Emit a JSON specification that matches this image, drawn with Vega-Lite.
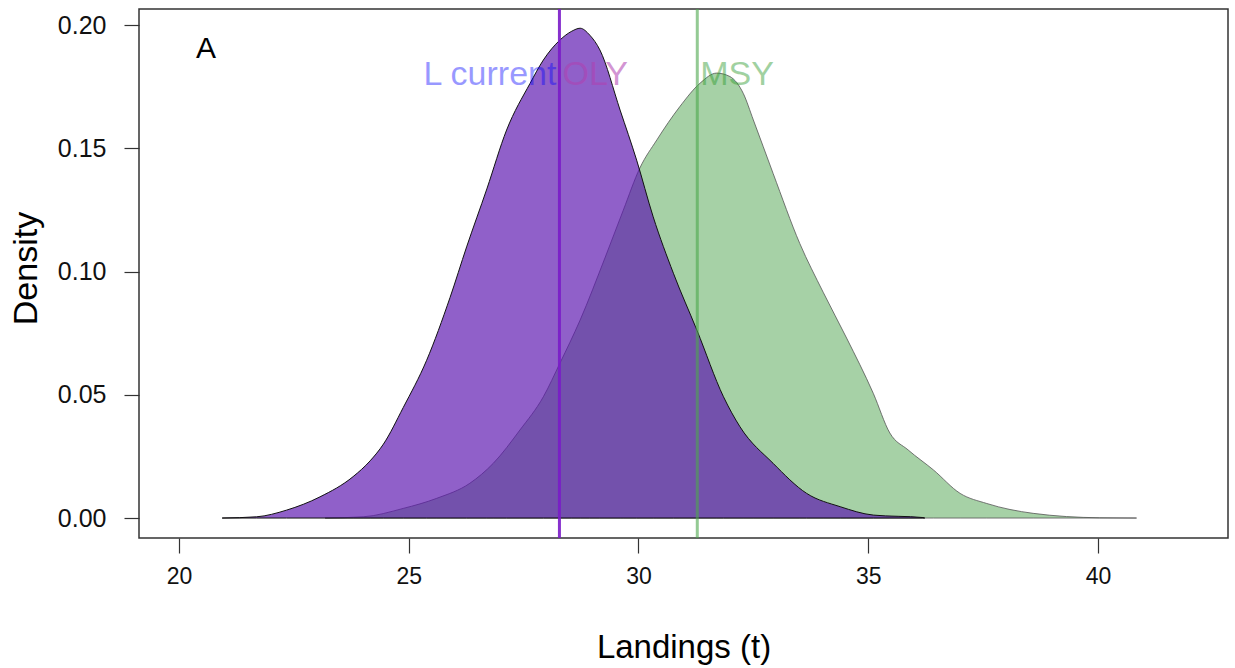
{
  "$schema": "https://vega.github.io/schema/vega-lite/v6.json",
  "width": 1089,
  "height": 529,
  "autosize": "none",
  "padding": {"left": 139, "top": 9, "right": 7, "bottom": 130},
  "background": "white",
  "config": {
    "view": {"stroke": "#333333", "strokeWidth": 1.5},
    "font": "Liberation Sans",
    "axis": {"grid": false, "domain": false, "tickColor": "#333333", "tickSize": 15, "tickWidth": 1.2, "labelFont": "Liberation Sans", "labelFontSize": 23, "labelColor": "#111111", "titleFont": "Liberation Sans", "titleFontSize": 33, "titleFontWeight": "normal", "titleColor": "#000000"}
  },
  "datasets": {
    "oly": [
      {"landings": 20.94, "density": 0.0},
      {"landings": 21.69, "density": 0.0005},
      {"landings": 22.34, "density": 0.0032},
      {"landings": 23.07, "density": 0.0086},
      {"landings": 23.79, "density": 0.0168},
      {"landings": 24.16, "density": 0.0232},
      {"landings": 24.45, "density": 0.0300},
      {"landings": 24.88, "density": 0.0448},
      {"landings": 25.39, "density": 0.0640},
      {"landings": 25.90, "density": 0.0895},
      {"landings": 26.26, "density": 0.1100},
      {"landings": 26.70, "density": 0.1335},
      {"landings": 27.13, "density": 0.1574},
      {"landings": 27.64, "density": 0.1763},
      {"landings": 27.93, "density": 0.1858},
      {"landings": 28.29, "density": 0.1939},
      {"landings": 28.55, "density": 0.1975},
      {"landings": 28.73, "density": 0.1987},
      {"landings": 28.94, "density": 0.1959},
      {"landings": 29.16, "density": 0.1899},
      {"landings": 29.60, "density": 0.1655},
      {"landings": 29.96, "density": 0.1452},
      {"landings": 30.32, "density": 0.1222},
      {"landings": 30.76, "density": 0.0993},
      {"landings": 31.27, "density": 0.0763},
      {"landings": 31.85, "density": 0.0492},
      {"landings": 32.21, "density": 0.0370},
      {"landings": 32.93, "density": 0.0222},
      {"landings": 33.66, "density": 0.0100},
      {"landings": 34.39, "density": 0.0046},
      {"landings": 35.11, "density": 0.0012},
      {"landings": 36.19, "density": 0.0002},
      {"landings": 36.23, "density": 0.0}
    ],
    "msy": [
      {"landings": 23.18, "density": 0.0},
      {"landings": 24.01, "density": 0.0005},
      {"landings": 24.88, "density": 0.0039},
      {"landings": 25.61, "density": 0.0080},
      {"landings": 26.33, "density": 0.0141},
      {"landings": 26.84, "density": 0.0222},
      {"landings": 27.42, "density": 0.0357},
      {"landings": 27.93, "density": 0.0492},
      {"landings": 28.29, "density": 0.0628},
      {"landings": 28.73, "density": 0.0803},
      {"landings": 29.27, "density": 0.1055},
      {"landings": 29.67, "density": 0.1249},
      {"landings": 30.03, "density": 0.1420},
      {"landings": 30.40, "density": 0.1534},
      {"landings": 30.90, "density": 0.1669},
      {"landings": 31.34, "density": 0.1764},
      {"landings": 31.70, "density": 0.1805},
      {"landings": 31.99, "density": 0.1791},
      {"landings": 32.28, "density": 0.1723},
      {"landings": 32.50, "density": 0.1615},
      {"landings": 32.93, "density": 0.1398},
      {"landings": 33.51, "density": 0.1114},
      {"landings": 34.02, "density": 0.0916},
      {"landings": 34.53, "density": 0.0730},
      {"landings": 35.11, "density": 0.0506},
      {"landings": 35.47, "density": 0.0345},
      {"landings": 35.87, "density": 0.0276},
      {"landings": 36.42, "density": 0.0195},
      {"landings": 37.00, "density": 0.0100},
      {"landings": 37.58, "density": 0.0059},
      {"landings": 38.59, "density": 0.0019},
      {"landings": 40.04, "density": 0.0001},
      {"landings": 40.84, "density": 0.0}
    ],
    "refs": [
      {"name": "L current", "landings": 28.28},
      {"name": "MSY", "landings": 31.28}
    ],
    "labels": [
      {"label": "L current", "landings": 28.28, "density": 0.1757},
      {"label": "OLY", "landings": 28.28, "density": 0.1757},
      {"label": "MSY", "landings": 31.28, "density": 0.1757},
      {"label": "A", "landings": 20.59, "density": 0.1866}
    ]
  },
  "layer": [
    {
      "mark": {"type": "rule", "color": "#bebebe", "strokeWidth": 1.5},
      "encoding": {"y": {"datum": 0, "type": "quantitative"}}
    },
    {
      "data": {"name": "msy"},
      "mark": {"type": "area", "interpolate": "monotone", "color": "#a6d1a6", "fillOpacity": 1, "stroke": "#555555", "strokeOpacity": 0.8, "strokeWidth": 1},
      "encoding": {
        "x": {"field": "landings", "type": "quantitative", "scale": {"domain": [19.13, 42.83], "nice": false, "zero": false},
              "axis": {"values": [20, 25, 30, 35, 40], "title": "Landings (t)", "labelPadding": 12, "titleY": 119, "titleBaseline": "alphabetic"}},
        "y": {"field": "density", "type": "quantitative", "stack": null, "scale": {"domain": [-0.0081, 0.2065], "nice": false, "zero": false},
              "axis": {"values": [0, 0.05, 0.1, 0.15, 0.2], "format": ".2f", "title": "Density", "labelFontSize": 25, "labelPadding": 18, "titleFontSize": 34, "titleX": -103, "titleY": 259, "titleAngle": -90, "titleAlign": "center", "titleBaseline": "alphabetic"}}
      }
    },
    {
      "data": {"name": "oly"},
      "mark": {"type": "area", "interpolate": "monotone", "color": "#5c14b0", "fillOpacity": 0.68, "stroke": "#111111", "strokeWidth": 1},
      "encoding": {
        "x": {"field": "landings", "type": "quantitative"},
        "y": {"field": "density", "type": "quantitative", "stack": null}
      }
    },
    {
      "data": {"name": "refs"},
      "transform": [{"filter": "datum.name === 'L current'"}],
      "mark": {"type": "rule", "color": "#7a1bc8", "opacity": 0.9, "strokeWidth": 3},
      "encoding": {"x": {"field": "landings", "type": "quantitative"}}
    },
    {
      "data": {"name": "refs"},
      "transform": [{"filter": "datum.name === 'MSY'"}],
      "mark": {"type": "rule", "color": "#4ca64c", "opacity": 0.6, "strokeWidth": 3},
      "encoding": {"x": {"field": "landings", "type": "quantitative"}}
    },
    {
      "data": {"name": "labels"},
      "transform": [{"filter": "datum.label === 'L current'"}],
      "mark": {"type": "text", "align": "right", "baseline": "alphabetic", "dx": -3, "fontSize": 34, "color": "#0000ff", "opacity": 0.4},
      "encoding": {"x": {"field": "landings", "type": "quantitative"}, "y": {"field": "density", "type": "quantitative"}, "text": {"field": "label"}}
    },
    {
      "data": {"name": "labels"},
      "transform": [{"filter": "datum.label === 'OLY'"}],
      "mark": {"type": "text", "align": "left", "baseline": "alphabetic", "dx": 3, "fontSize": 34, "color": "#b040b0", "opacity": 0.55},
      "encoding": {"x": {"field": "landings", "type": "quantitative"}, "y": {"field": "density", "type": "quantitative"}, "text": {"field": "label"}}
    },
    {
      "data": {"name": "labels"},
      "transform": [{"filter": "datum.label === 'MSY'"}],
      "mark": {"type": "text", "align": "left", "baseline": "alphabetic", "dx": 3, "fontSize": 34, "color": "#2e9a2e", "opacity": 0.45},
      "encoding": {"x": {"field": "landings", "type": "quantitative"}, "y": {"field": "density", "type": "quantitative"}, "text": {"field": "label"}}
    },
    {
      "data": {"name": "labels"},
      "transform": [{"filter": "datum.label === 'A'"}],
      "mark": {"type": "text", "align": "center", "baseline": "alphabetic", "fontSize": 30, "color": "#000000"},
      "encoding": {"x": {"field": "landings", "type": "quantitative"}, "y": {"field": "density", "type": "quantitative"}, "text": {"field": "label"}}
    }
  ]
}
